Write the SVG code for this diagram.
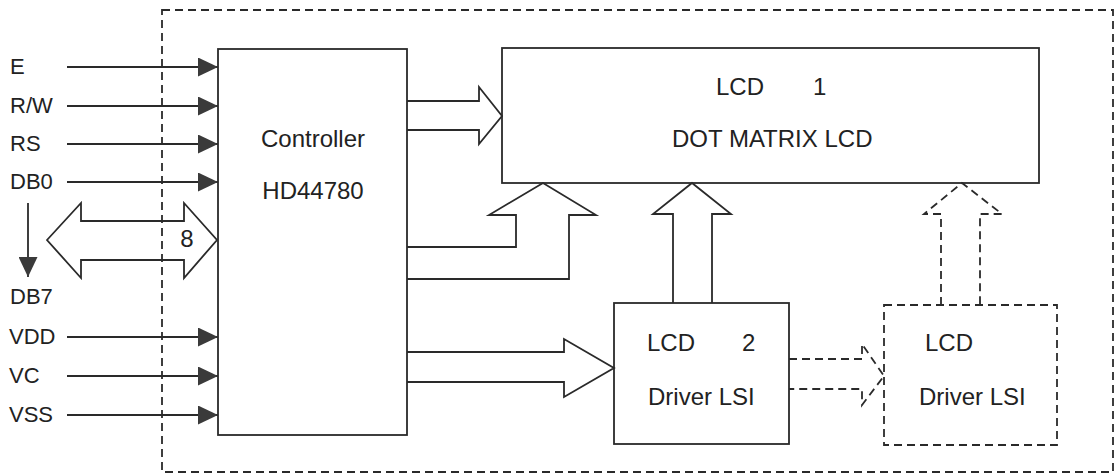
<svg xmlns="http://www.w3.org/2000/svg" width="1120" height="475" viewBox="0 0 1120 475">
<style>
  .bg { fill: #ffffff; }
  .box { fill: #ffffff; stroke: #2a2a2a; stroke-width: 1.8; }
  .dbox { fill: none; stroke: #2a2a2a; stroke-width: 1.8; stroke-dasharray: 8 5; }
  .sig { fill: none; stroke: #2a2a2a; stroke-width: 1.8; }
  .bus { fill: none; stroke: #2a2a2a; stroke-width: 1.8; stroke-linejoin: miter; }
  .dbus { fill: none; stroke: #2a2a2a; stroke-width: 1.8; stroke-dasharray: 8 5; }
  .lbl { font-family: "Liberation Sans", Arial, sans-serif; font-size: 22px; fill: #222; }
  .txt { font-family: "Liberation Sans", Arial, sans-serif; font-size: 24px; fill: #222; }
</style>
<defs>
  <marker id="ah" markerUnits="userSpaceOnUse" markerWidth="20" markerHeight="19" refX="20" refY="9.5" orient="auto">
    <path d="M0,0 L20,9.5 L0,19 z" fill="#3a3a3a"/>
  </marker>
</defs>
<rect class="bg" x="0" y="0" width="1120" height="475"/>

<g id="boundary">
  <rect class="dbox" x="162" y="10" width="951" height="462"/>
</g>

<g id="controller">
  <rect class="box" x="218" y="49" width="189" height="386" fill="none" style="fill:none"/>
  <text class="txt" x="313" y="147" text-anchor="middle">Controller</text>
  <text class="txt" x="313" y="199" text-anchor="middle">HD44780</text>
</g>

<g id="lcd1">
  <rect class="box" x="502" y="48" width="537" height="135"/>
  <text class="txt" x="716" y="95">LCD</text>
  <text class="txt" x="813" y="95">1</text>
  <text class="txt" x="672" y="147">DOT MATRIX LCD</text>
</g>

<g id="driver2">
  <rect class="box" x="614" y="303" width="175" height="141"/>
  <text class="txt" x="647" y="351">LCD</text>
  <text class="txt" x="742" y="351">2</text>
  <text class="txt" x="648" y="405">Driver LSI</text>
</g>

<g id="driver3">
  <rect class="dbox" x="884" y="305" width="173" height="140"/>
  <text class="txt" x="925" y="351">LCD</text>
  <text class="txt" x="919" y="405">Driver LSI</text>
</g>

<g id="labels">
  <text class="lbl" x="10" y="74">E</text>
  <text class="lbl" x="10" y="113">R/W</text>
  <text class="lbl" x="10" y="151">RS</text>
  <text class="lbl" x="10" y="189">DB0</text>
  <text class="lbl" x="10" y="304">DB7</text>
  <text class="lbl" x="9" y="344">VDD</text>
  <text class="lbl" x="9" y="383">VC</text>
  <text class="lbl" x="9" y="422">VSS</text>
  <text class="txt" x="187" y="247" text-anchor="middle">8</text>
</g>

<g id="connectors">
  <line class="sig" x1="67" y1="67" x2="218" y2="67" marker-end="url(#ah)"/>
  <line class="sig" x1="67" y1="106" x2="218" y2="106" marker-end="url(#ah)"/>
  <line class="sig" x1="67" y1="144" x2="218" y2="144" marker-end="url(#ah)"/>
  <line class="sig" x1="67" y1="182" x2="218" y2="182" marker-end="url(#ah)"/>
  <line class="sig" x1="67" y1="337" x2="218" y2="337" marker-end="url(#ah)"/>
  <line class="sig" x1="67" y1="376" x2="218" y2="376" marker-end="url(#ah)"/>
  <line class="sig" x1="67" y1="415" x2="218" y2="415" marker-end="url(#ah)"/>
  <line class="sig" x1="28" y1="203" x2="28" y2="277" marker-end="url(#ah)"/>

  <polygon class="bus" points="47,240 81,203 81,221 184,221 184,203 217,240 184,278 184,260 81,260 81,278"/>
  <polyline class="bus" points="407,101 479,101 479,87 502,116 479,144 479,130 407,130"/>
  <polyline class="bus" points="407,247 516,247 516,215 489,215 543,183 596,215 569,215 569,279 407,279"/>
  <polyline class="bus" points="673,303 673,214 653,214 692,183 731,214 712,214 712,303"/>
  <polyline class="bus" points="407,352 564,352 564,339 614,368 564,397 564,382 407,382"/>
  <polyline class="dbus" points="941,305 941,214 924,214 962,183 1002,214 980,214 980,305"/>
  <polyline class="dbus" points="789,359 862,359 862,344 884,376 862,405 862,389 789,389"/>
</g>
</svg>
